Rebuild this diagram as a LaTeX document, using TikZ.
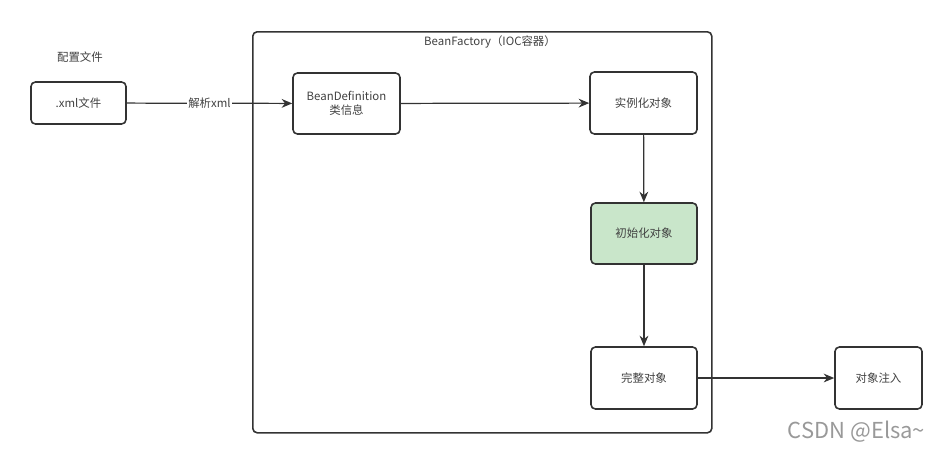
\documentclass[tikz,border=0pt]{standalone}
\usepackage{fontspec}
\setmainfont{Noto Sans CJK SC}
\usetikzlibrary{arrows.meta}
\definecolor{initgreen}{HTML}{C9E6CA}
\definecolor{linegray}{HTML}{333333}
\begin{document}
\begin{tikzpicture}
        [boxdecorate/.style={shape=rectangle,rounded corners=2.5pt,draw=linegray,line width=0.9pt,
          align=center,font=\fontsize{6.5}{8}\selectfont,text=black!75},%
        arrowdecorate/.style={-{Stealth[length=6pt,width=5pt]},draw=linegray,line width=0.7pt},
        textdecorate/.style={font=\fontsize{6.5}{8}\selectfont,text=black!75}]
        \useasboundingbox (0,0) rectangle (18.9,-9.02);
        %% container
        \node (factory) [draw=linegray,line width=0.9pt,rounded corners=2.5pt,minimum width=9.18cm,
          minimum height=8.02cm,anchor=north west,inner sep=0pt] at (5.04,-0.62) {};
        \node [textdecorate] at (9.8,-0.84) {BeanFactory（IOC容器）};
        \node [textdecorate] at (1.6,-1.14) {配置文件};
        %% nodes or vertices
        \foreach \nodename/\x/\y/\w/\h/\txt in {xml/1.57/-2.06/1.9/0.84/.xml文件,
          beandef/6.93/-2.07/2.14/1.22/{BeanDefinition\\类信息},
          inst/12.87/-2.06/2.14/1.24/实例化对象,
          full/12.88/-7.56/2.12/1.24/完整对象,
          inject/17.57/-7.56/1.74/1.24/对象注入}
        {
          \node (\nodename) at (\x,\y) [boxdecorate,minimum width=\w cm,minimum height=\h cm] {\txt};
        }
        \node (init) at (12.88,-4.67) [boxdecorate,fill=initgreen,minimum width=2.12cm,minimum height=1.22cm] {初始化对象};
        %% edges or lines
        \path
        \foreach \startnode/\endnode in {beandef/inst, inst/init, init/full, full/inject}
        {
          (\startnode) edge[arrowdecorate] (\endnode)
        };
        \draw [arrowdecorate] (xml) -- node[textdecorate,fill=white,inner sep=1pt] {解析xml} (beandef);
        %% watermark
        \node [font=\fontsize{12.5}{14}\selectfont,text=black!40] at (17.13,-8.64) {CSDN @Elsa\textasciitilde};
      \end{tikzpicture}
\end{document}
